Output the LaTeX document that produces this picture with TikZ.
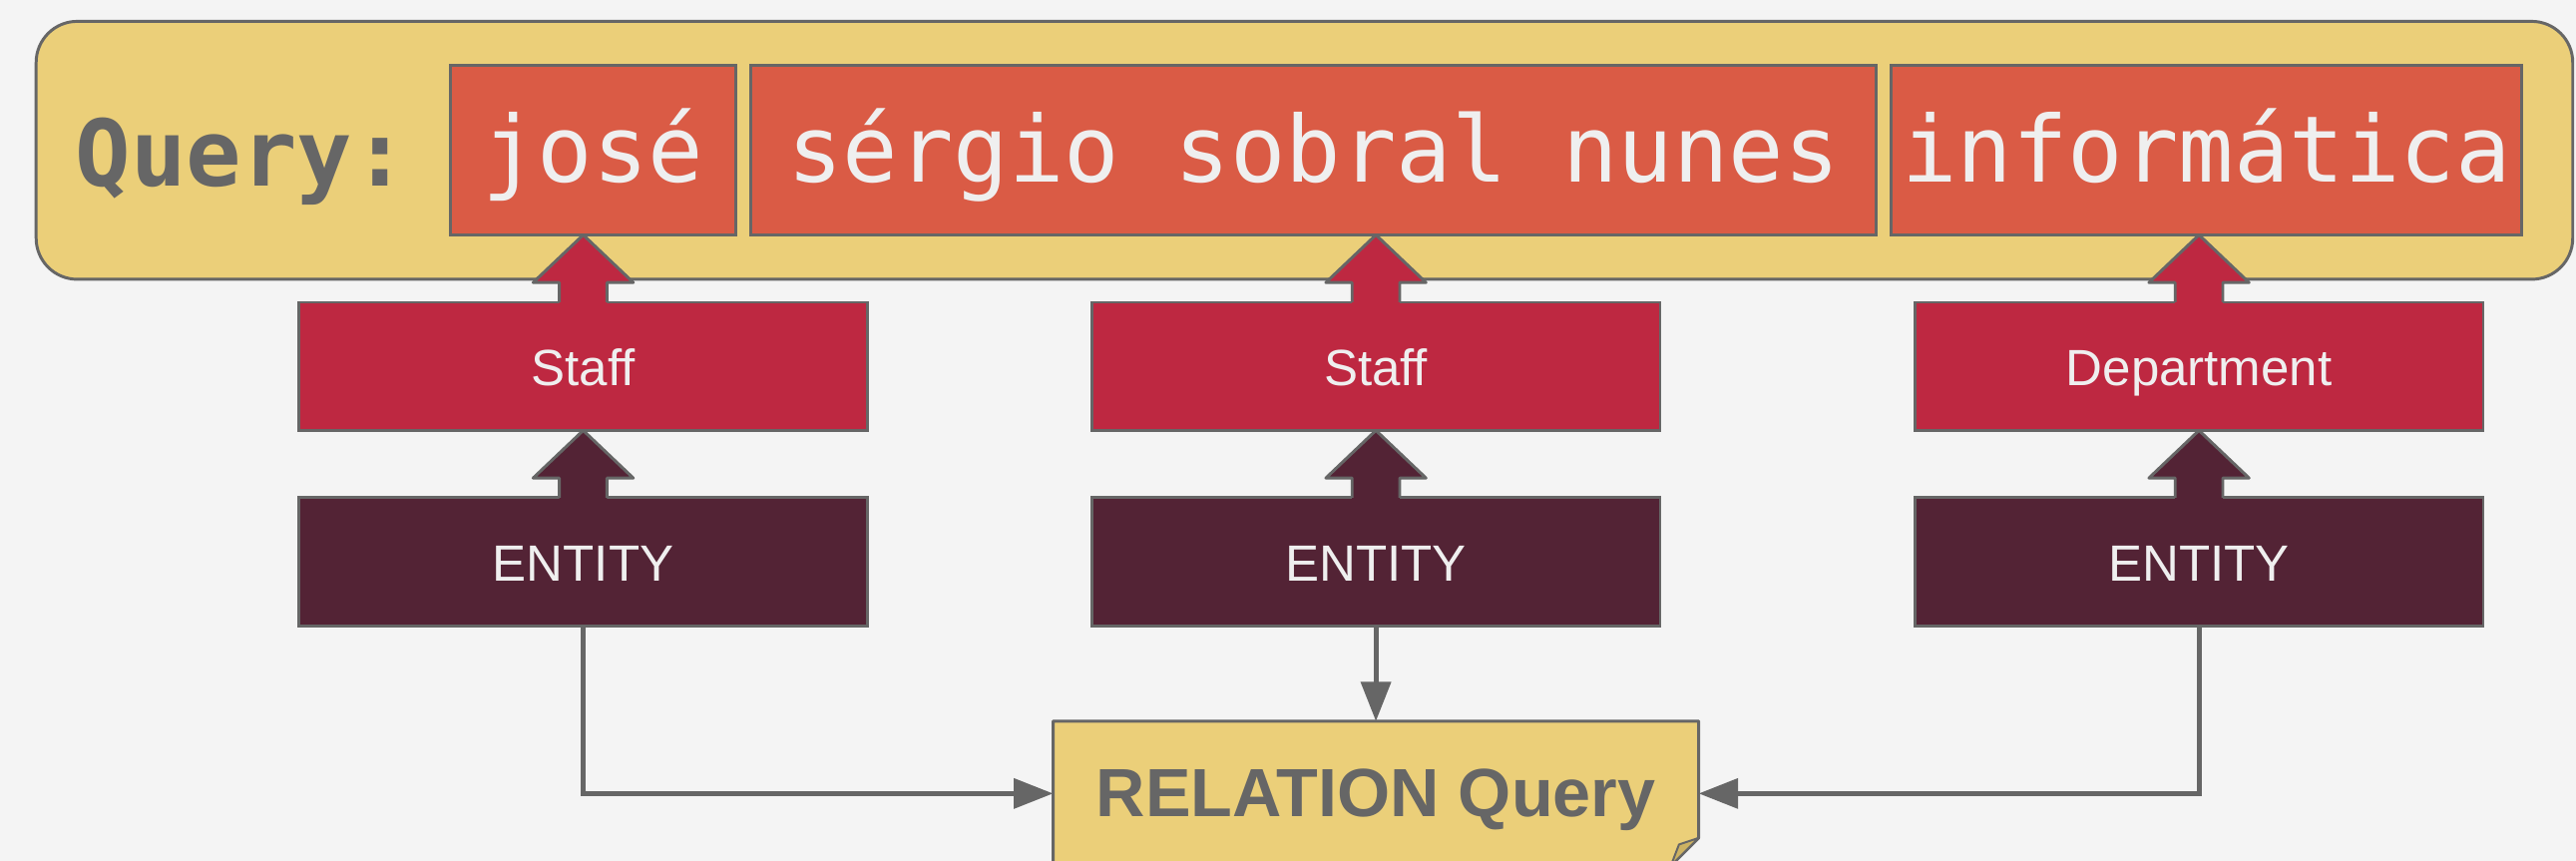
\documentclass[tikz,border=0pt]{standalone}
\usepackage{fontspec}
\setmainfont{Liberation Sans}
\newfontfamily\monofont{DejaVu Sans Mono}
\usetikzlibrary{arrows.meta,calc}
\definecolor{bgc}{HTML}{F4F4F4}
\definecolor{qyellow}{HTML}{EBCF79}
\definecolor{tokred}{HTML}{DA5B45}
\definecolor{crim}{HTML}{BE2841}
\definecolor{darkent}{HTML}{532335}
\definecolor{greyline}{HTML}{666666}
\definecolor{offwhite}{HTML}{EFEFEF}
\definecolor{foldc}{HTML}{CDB262}
\newcommand\blkarrow[3]{%
  \fill[#3] let \p1=(#1.north), \p2=(#2.south) in
    (\x1-14.5pt,\y1-1.5pt) -- (\x1-14.5pt,\y2-29pt) -- (\x1-30.5pt,\y2-29pt) -- (\x1,\y2)
    -- (\x1+30.5pt,\y2-29pt) -- (\x1+14.5pt,\y2-29pt) -- (\x1+14.5pt,\y1-1.5pt) -- cycle;
  \draw[greyline,line width=1.8pt,line join=round] let \p1=(#1.north), \p2=(#2.south) in
    (\x1-14.5pt,\y1) -- (\x1-14.5pt,\y2-29pt) -- (\x1-30.5pt,\y2-29pt) -- (\x1,\y2)
    -- (\x1+30.5pt,\y2-29pt) -- (\x1+14.5pt,\y2-29pt) -- (\x1+14.5pt,\y1);
}
\begin{document}
\begin{tikzpicture}[x=1pt,y=-1pt,
  box/.style={draw=greyline,line width=1.8pt,inner sep=0pt,outer sep=0pt,rectangle},
  tok/.style={box,fill=tokred,minimum height=103pt},
  toktxt/.style={anchor=base,inner sep=0pt,text=offwhite,font=\monofont\fontsize{56}{60}\selectfont},
  typebox/.style={box,fill=crim,minimum width=346pt,minimum height=78pt},
  entbox/.style={box,fill=darkent,minimum width=346pt,minimum height=78pt},
  lbl/.style={anchor=base,inner sep=0pt,text=offwhite,font=\fontsize{31}{35}\selectfont},
  conn/.style={draw=greyline,line width=3pt,-{Triangle[length=24pt,width=18pt]}}]
\useasboundingbox (0,0) rectangle (1568,524);
\fill[bgc] (0,0) rectangle (1568,524);
% query box
\node[box,fill=qyellow,rounded corners=25pt,minimum width=1544pt,minimum height=157pt] (qbox) at (794,91.5) {};
\node[anchor=base,inner sep=0pt,text=greyline,font=\monofont\bfseries\fontsize{56}{60}\selectfont] (qlbl) at (147,113) {Query:};
\node[tok,minimum width=174pt] (t1) at (361,91.5) {};
\node[tok,minimum width=685pt] (t2) at (799.5,91.5) {};
\node[tok,minimum width=384pt] (t3) at (1343,91.5) {};
\node[toktxt] (t1x) at (361,111) {josé};
\node[toktxt] (t2x) at (799.5,111) {sérgio sobral nunes};
\node[toktxt] (t3x) at (1343,111) {informática};
% type boxes
\node[typebox] (s1) at (355,223) {};
\node[typebox] (s2) at (837.5,223) {};
\node[typebox] (s3) at (1338.5,223) {};
\node[lbl] (s1x) at (355,235) {Staff};
\node[lbl] (s2x) at (837.5,235) {Staff};
\node[lbl] (s3x) at (1338.5,235) {Department};
% entity boxes
\node[entbox] (e1) at (355,342) {};
\node[entbox] (e2) at (837.5,342) {};
\node[entbox] (e3) at (1338.5,342) {};
\node[lbl] (e1x) at (355,354) {ENTITY};
\node[lbl] (e2x) at (837.5,354) {ENTITY};
\node[lbl] (e3x) at (1338.5,354) {ENTITY};
% block arrows
\blkarrow{s1}{t1}{crim}
\blkarrow{s2}{t2}{crim}
\blkarrow{s3}{t3}{crim}
\blkarrow{e1}{s1}{darkent}
\blkarrow{e2}{s2}{darkent}
\blkarrow{e3}{s3}{darkent}
% relation note
\node[inner sep=0pt,outer sep=0pt,minimum width=393pt,minimum height=88pt] (rel) at (837.5,483) {};
\draw[greyline,line width=1.8pt,fill=qyellow,line join=round]
  (rel.north west) -- (rel.north east) -- ([yshift=17pt]rel.south east)
  -- ([xshift=-17pt]rel.south east) -- (rel.south west) -- cycle;
\draw[greyline,line width=1.2pt,fill=foldc,line join=round]
  ([yshift=17pt]rel.south east) -- ([xshift=-12pt,yshift=13pt]rel.south east) -- ([xshift=-17pt]rel.south east) -- cycle;
\node[anchor=base,inner sep=0pt,text=greyline,font=\bfseries\fontsize{41.5}{45}\selectfont] (relx) at (837.5,497) {RELATION Query};
% connectors
\draw[conn] (e1.south) |- (rel.west);
\draw[conn] (e2.south) -- (rel.north);
\draw[conn] (e3.south) |- (rel.east);
\end{tikzpicture}
\end{document}
